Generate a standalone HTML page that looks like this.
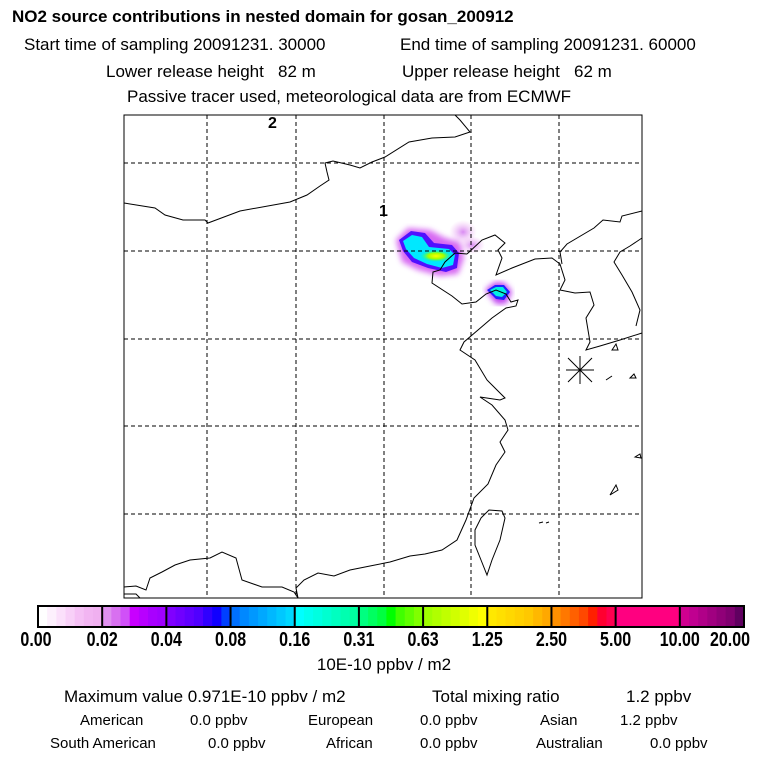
<!DOCTYPE html>
<html><head><meta charset="utf-8"><style>
body{margin:0;background:#fff;}
svg{display:block;font-family:"Liberation Sans",sans-serif;}
</style></head><body>
<svg id="s" width="768" height="768" viewBox="0 0 768 768">
<defs>
<radialGradient id="haze" cx="50%" cy="50%" r="50%"><stop offset="0" stop-color="#d070f0" stop-opacity="0.9"/><stop offset="1" stop-color="#f0b0f0" stop-opacity="0"/></radialGradient>
<radialGradient id="core" cx="50%" cy="50%" r="50%"><stop offset="0" stop-color="#ffff00"/><stop offset="0.5" stop-color="#a0ff00"/><stop offset="1" stop-color="#00ffa0" stop-opacity="0"/></radialGradient>
<filter id="blur"><feGaussianBlur stdDeviation="3"/></filter>
</defs>
<text x="12" y="22" font-size="17" font-weight="bold">NO2 source contributions in nested domain for gosan_200912</text>
<text x="24" y="50" font-size="17">Start time of sampling 20091231. 30000</text>
<text x="400" y="50" font-size="17">End time of sampling 20091231. 60000</text>
<text x="106" y="77" font-size="17">Lower release height&#160;&#160;&#160;82 m</text>
<text x="402" y="77" font-size="17">Upper release height&#160;&#160;&#160;62 m</text>
<text x="127" y="102" font-size="17">Passive tracer used, meteorological data are from ECMWF</text>

<g id="map">
<g>
<ellipse cx="463" cy="232" rx="14" ry="12" fill="url(#haze)" opacity="0.9"/>
<ellipse cx="472" cy="245" rx="13" ry="9" fill="url(#haze)" opacity="0.9"/>
<path d="M396,240 L408,228 L430,230 L445,238 L460,242 L464,258 L458,274 L440,276 L418,270 L402,262 Z" fill="#d050f0" filter="url(#blur)" opacity="0.85"/>
<path d="M399,240 L411,231 L425,233 L434,243 L452,245 L459,253 L457,268 L446,272 L428,268 L412,262 L403,251 Z" fill="#5010ff"/>
<path d="M403,241 L412,235 L422,237 L429,247 L449,249 L455,255 L453,265 L442,268 L427,264 L414,258 L406,249 Z" fill="#00e8ff"/>
<ellipse cx="436" cy="256" rx="16" ry="6" fill="url(#core)"/>
<path d="M485,290 L495,282 L505,283 L512,292 L506,304 L496,304 Z" fill="#c040f0" filter="url(#blur)"/>
<path d="M487,290 L495,285 L504,285 L510,292 L504,300 L496,299 Z" fill="#2020ff"/>
<path d="M490,290 L496,287 L503,287 L507,292 L502,297 L496,296 Z" fill="#00f0e0"/>
</g>
<g fill="none" stroke="#000" stroke-width="1">
<path d="M124,203 L155,208 L165,215 L183,220 L205,220 L208,223 L240,211 L290,202 L307,195 L320,186 L329,180 L327,172 L325,163 L333,161 L350,165 L360,168 L372,162 L385,157 L409,142 L432,138 L455,137 L470,132 L460,120 L455,115"/>
<path d="M467,254 L482,240 L495,235 L505,243 L498,250 L502,258 L496,275 L512,268 L535,259 L552,258 L560,264 L565,280 L560,290 L575,293 L590,292 L594,305 L586,318 L590,342 L586,350 L600,346 L620,340 L642,333"/>
<path d="M642,211 L622,216 L620,222 L603,220 L594,228 L567,244 L560,252 L562,264"/>
<path d="M642,238 L630,246 L620,252 L614,262 L622,275 L632,292 L640,310 L636,326"/>
<path d="M467,254 L455,253 L445,262 L440,270 L433,272 L432,283 L452,296 L462,304 L476,302 L486,294 L496,290 L506,294 L511,302 L518,300 L516,306 L506,308 L492,318 L478,330 L464,342 L460,350 L475,360 L487,380 L505,398 L500,400 L480,397 L492,405 L505,420 L508,430 L500,442 L505,452 L496,465 L488,484 L474,498 L466,520 L457,540 L442,550 L425,554 L410,556 L390,562 L370,566 L350,570 L334,576 L318,573 L304,580 L296,588 L298,598"/>
<path d="M124,587 L136,586 L146,590 L150,578 L162,572 L175,565 L190,560 L210,558 L222,552 L236,558 L242,580 L262,587 L282,587 L294,592 L298,598"/>
<path d="M124,594 L136,594 L140,598"/>
<path d="M481,518 L489,510 L502,511 L505,518 L500,540 L492,560 L487,575 L481,560 L475,545 L475,530 Z"/>
<path d="M612,350 L616,344 L618,350 Z M630,378 L634,374 L636,378 Z M606,380 L612,376 Z M635,457 L640,454 L641,458 Z M610,495 L616,485 L618,490 Z M539,523 L543,522 M546,523 L549,522"/>
</g>
<g stroke="#000" stroke-width="1">
<path d="M568,358 L592,382 M592,358 L568,382 M580,356 L580,384 M566,370 L594,370"/>
</g>
<text x="268" y="128" font-size="16" font-weight="bold">2</text>
<text x="379" y="216" font-size="16" font-weight="bold">1</text>
<g id="grid" stroke="#000" stroke-width="1" stroke-dasharray="4,3"></g>
<rect x="124" y="115" width="518" height="483" fill="none" stroke="#000" stroke-width="1"/>
</g>

<g id="cbar"></g>
<text x="384" y="670" font-size="17" text-anchor="middle">10E-10 ppbv / m2</text>
<text x="64" y="702" font-size="17">Maximum value  0.971E-10 ppbv / m2</text>
<text x="432" y="702" font-size="17">Total mixing ratio</text>
<text x="626" y="702" font-size="17">1.2 ppbv</text>
<g font-size="15">
<text x="80" y="725">American</text>
<text x="190" y="725">0.0 ppbv</text>
<text x="308" y="725">European</text>
<text x="420" y="725">0.0 ppbv</text>
<text x="540" y="725">Asian</text>
<text x="620" y="725">1.2 ppbv</text>
<text x="50" y="748">South American</text>
<text x="208" y="748">0.0 ppbv</text>
<text x="326" y="748">African</text>
<text x="420" y="748">0.0 ppbv</text>
<text x="536" y="748">Australian</text>
<text x="650" y="748">0.0 ppbv</text>
</g>
</svg>
<script>
const levelLabels=["0.00","0.02","0.04","0.08","0.16","0.31","0.63","1.25","2.50","5.00","10.00","20.00"];
const segColors=[
["#ffffff","#fdf0fd","#fbe0fb","#f8d0f8","#f5c0f5","#f2b5f2","#f0b0f0"],
["#e090f0","#d870f0","#d050f8","#c800ff","#b800ff","#a800ff","#a000ff"],
["#8000ff","#7000ff","#6000ff","#5000ff","#3000ff","#1000ff","#0040ff"],
["#0070ff","#0088ff","#0098ff","#00a8ff","#00b8ff","#00c8ff","#00d8ff"],
["#00ffff","#00ffee","#00ffe0","#00ffd0","#00ffc0","#00ffb0","#00ffa0"],
["#00ff80","#00ff60","#00ff40","#00ff00","#40ff00","#60ff00","#80ff00"],
["#a0ff00","#b0ff00","#c0ff00","#d0ff00","#e0ff00","#f0ff00","#ffff00"],
["#ffe800","#ffe000","#ffd800","#ffd000","#ffc800","#ffb800","#ffa800"],
["#ff9000","#ff7800","#ff6000","#ff4800","#ff2000","#ff0030","#ff0050"],
["#ff0080","#ff0080","#ff0080","#ff0080","#ff0080","#ff0080","#ff0080"],
["#d00090","#c00090","#b00088","#a00080","#900078","#800070","#600060"]];
const gridLonX=[207,296,384,471,559];
const gridLatY=[163,251,339,426,514];
const NS="http://www.w3.org/2000/svg";
const g=document.getElementById('grid');
gridLonX.forEach(x=>{const l=document.createElementNS(NS,'line');


l.setAttribute('x1',x);l.setAttribute('x2',x);l.setAttribute('y1',115);l.setAttribute('y2',598);g.appendChild(l);});
gridLatY.forEach(y=>{const l=document.createElementNS(NS,'line');


l.setAttribute('x1',124);l.setAttribute('x2',642);l.setAttribute('y1',y);l.setAttribute('y2',y);g.appendChild(l);});
const cb=document.getElementById('cbar');
const x0=38,x1=744,y0=606,h=21;
const segW=(x1-x0)/segColors.length;
segColors.forEach((cols,i)=>{cols.forEach((c,j)=>{const r=document.createElementNS(NS,'rect');


const sw=segW/cols.length;
r.setAttribute('x',x0+i*segW+j*sw);r.setAttribute('y',y0);r.setAttribute('width',sw+0.5);r.setAttribute('height',h);r.setAttribute('fill',c);cb.appendChild(r);});});
levelLabels.forEach((t,i)=>{const x=x0+i*segW;
if(i>0&&i<levelLabels.length-1){const l=document.createElementNS(NS,'line');


l.setAttribute('x1',x);l.setAttribute('x2',x);l.setAttribute('y1',y0);l.setAttribute('y2',y0+h);l.setAttribute('stroke','#000');l.setAttribute('stroke-width','2');cb.appendChild(l);}
const tx=document.createElementNS(NS,'text');


let ax=x; if(i===0)ax=x-2; if(i===levelLabels.length-1)ax=x-14;
tx.setAttribute('x',ax);tx.setAttribute('y',646);tx.setAttribute('font-size','20');tx.setAttribute('font-weight','bold');tx.setAttribute('text-anchor','middle');
tx.setAttribute('transform',`translate(${ax},0) scale(0.8,1) translate(${-ax},0)`);
tx.textContent=t;cb.appendChild(tx);});
const fr=document.createElementNS(NS,'rect');


fr.setAttribute('x',x0);fr.setAttribute('y',y0);fr.setAttribute('width',x1-x0);fr.setAttribute('height',h);fr.setAttribute('fill','none');fr.setAttribute('stroke','#000');fr.setAttribute('stroke-width','2');cb.appendChild(fr);
</script>
</body></html>
